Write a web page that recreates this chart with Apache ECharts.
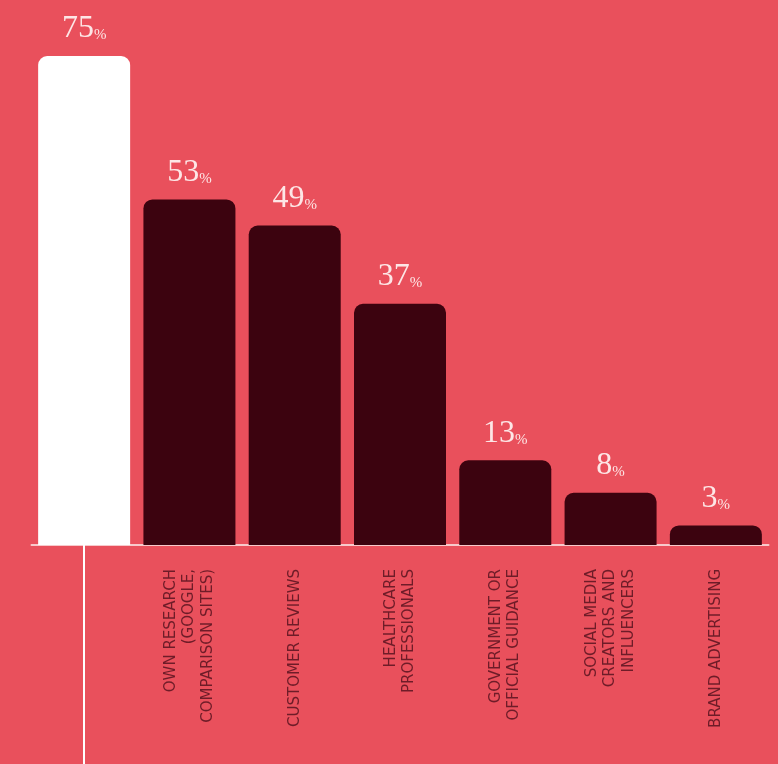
<!DOCTYPE html>
<html>
<head>
<meta charset="utf-8">
<style>
html,body{margin:0;padding:0;background:#E9505C;}
#c{width:778px;height:764px;}
</style>
<script src="https://cdn.jsdelivr.net/npm/echarts@6/dist/echarts.min.js"></script>
</head>
<body>
<div id="c"></div>
<script>
const categories = ['', 'OWN RESEARCH\n(GOOGLE,\nCOMPARISON SITES)', 'CUSTOMER REVIEWS', 'HEALTHCARE\nPROFESSIONALS', 'GOVERNMENT OR\nOFFICIAL GUIDANCE', 'SOCIAL MEDIA\nCREATORS AND\nINFLUENCERS', 'BRAND ADVERTISING'];
const values = [75, 53, 49, 37, 13, 8, 3];
const barColors = ['#FFFFFF', '#3C030F', '#3C030F', '#3C030F', '#3C030F', '#3C030F', '#3C030F'];

const chart = echarts.init(document.getElementById('c'), null, {renderer: 'canvas'});
chart.setOption({
  backgroundColor: '#E9505C',
  animation: false,
  grid: {left: 31.5, right: 9.5, top: 56, bottom: 219, containLabel: false},
  xAxis: {
    type: 'category',
    data: categories,
    axisLine: {show: true, lineStyle: {color: '#F8C9CB', width: 2}},
    axisTick: {
      show: true,
      alignWithLabel: true,
      interval: function (i) { return i === 0; },
      length: 222,
      lineStyle: {color: '#FFFFFF', width: 2}
    },
    axisLabel: {
      rotate: 90,
      interval: 0,
      margin: 24,
      color: '#6E1C28',
      fontFamily: 'DejaVu Sans',
      fontSize: 15,
      lineHeight: 18.5
    }
  },
  yAxis: {type: 'value', min: 0, max: 75, show: false, splitLine: {show: false}},
  series: [{
    type: 'bar',
    data: values.map((v, i) => ({value: v, itemStyle: {color: barColors[i]}})),
    barWidth: 92,
    itemStyle: {borderRadius: [9, 9, 0, 0]},
    label: {
      show: true,
      position: 'top',
      distance: 11,
      formatter: p => '{n|' + p.value + '}{p|%}',
      rich: {
        n: {fontFamily: 'Liberation Serif', fontSize: 32, color: '#FDE6E6', verticalAlign: 'bottom'},
        p: {fontFamily: 'Liberation Serif', fontSize: 15, color: '#FDE6E6', verticalAlign: 'bottom', padding: [0, 0, 2, 0]}
      }
    }
  }]
});
</script>
</body>
</html>
